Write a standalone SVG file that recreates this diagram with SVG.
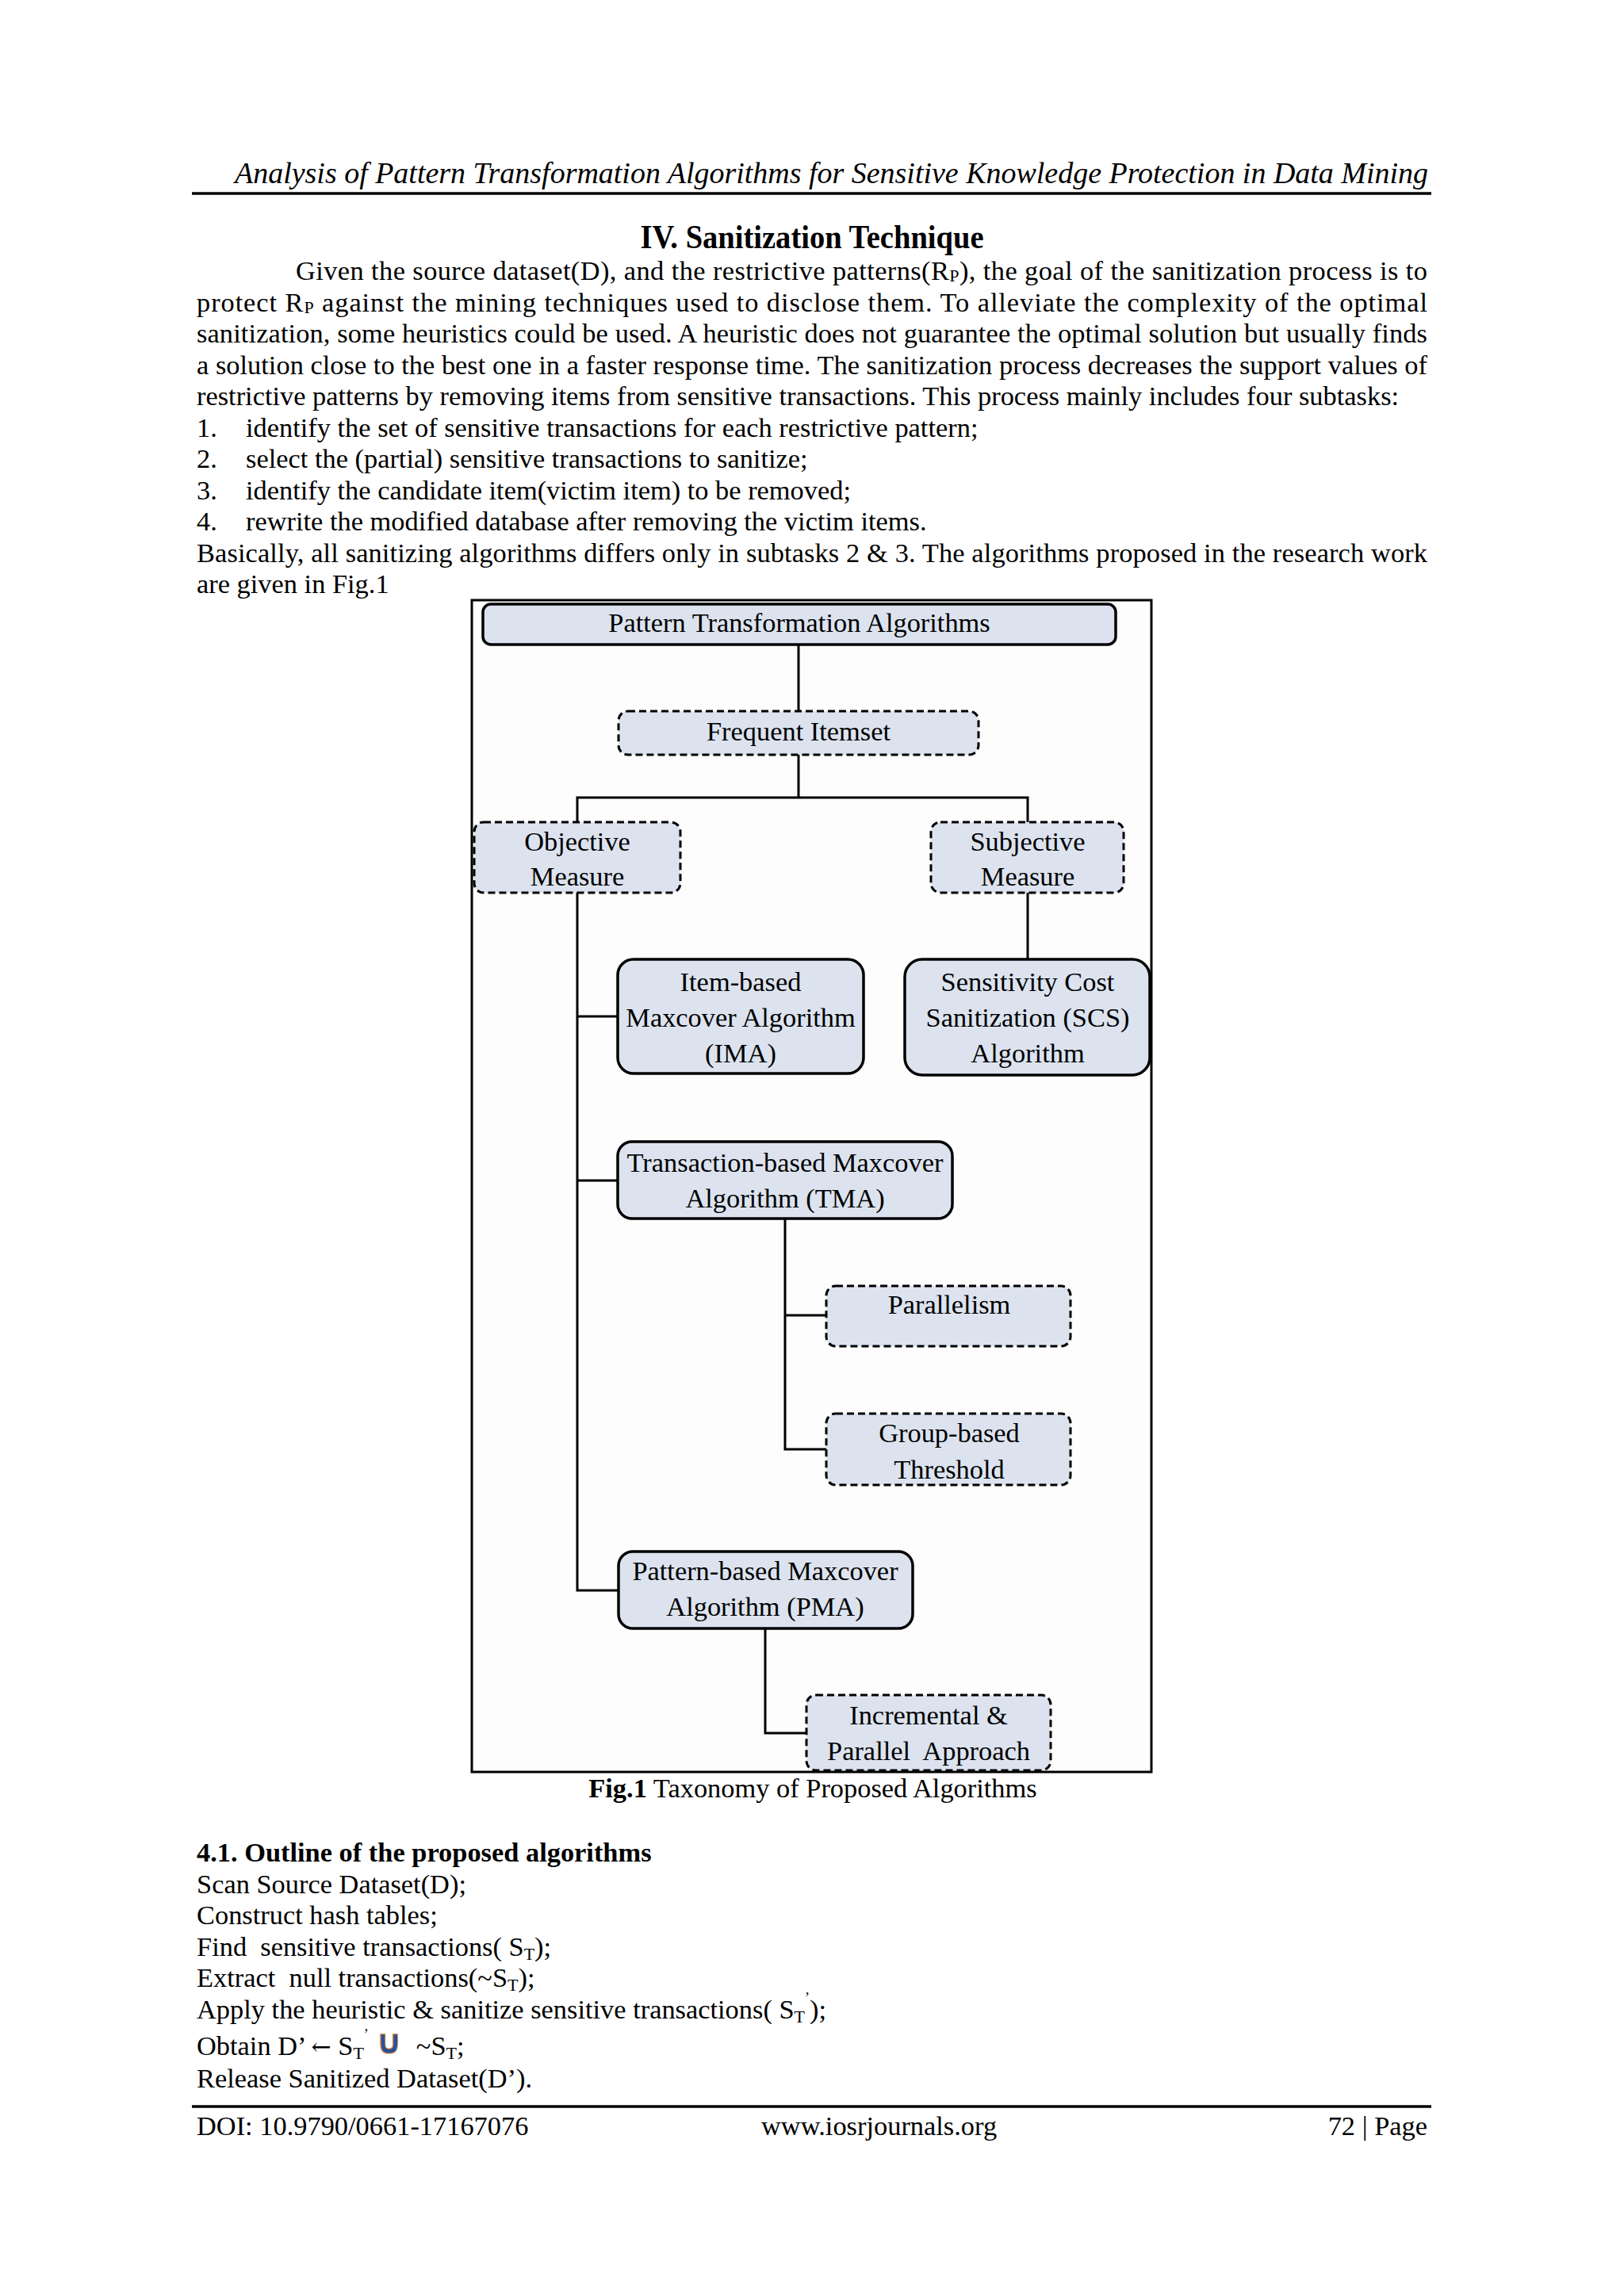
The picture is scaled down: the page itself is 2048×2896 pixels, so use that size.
<svg xmlns="http://www.w3.org/2000/svg" width="2048" height="2896" viewBox="0 0 2048 2896">
<style>
text{font-family:"Liberation Serif","Times New Roman",serif;font-size:34.4px;fill:#000}
.hdr{font-style:italic;font-size:37.8px}
.ttl{font-weight:bold;font-size:41.3px}
.b{font-weight:bold}
.c{text-anchor:middle}
.solid{fill:#dce3ef;stroke:#000;stroke-width:3.5}
.dash{fill:#dce3ef;stroke:#000;stroke-width:3;stroke-dasharray:9 5}
.conn{fill:none;stroke:#000;stroke-width:3}
.rule{stroke:#000;stroke-width:3.5}
</style>
<rect x="0" y="0" width="2048" height="2896" fill="#fff"/>
<!-- page header -->
<text class="hdr" x="296" y="231" textLength="1505" lengthAdjust="spacingAndGlyphs">Analysis of Pattern Transformation Algorithms for Sensitive Knowledge Protection in Data Mining</text>
<line class="rule" x1="242" y1="244" x2="1805" y2="244"/>
<text class="ttl c" x="1024" y="313" textLength="433" lengthAdjust="spacingAndGlyphs">IV. Sanitization Technique</text>
<!-- body -->
<text x="373" y="353" textLength="1427">Given the source dataset(D), and the restrictive patterns(R<tspan font-size="22" dy="2">P</tspan><tspan dy="-2">), the goal of the sanitization process is to</tspan></text>
<text x="248" y="392.5" textLength="1552">protect R<tspan font-size="22" dy="2">P</tspan><tspan dy="-2"> against the mining techniques used to disclose them. To alleviate the complexity of the optimal</tspan></text>
<text x="248" y="432" textLength="1552">sanitization, some heuristics could be used. A heuristic does not guarantee the optimal solution but usually finds</text>
<text x="248" y="471.5" textLength="1552">a solution close to the best one in a faster response time. The sanitization process decreases the support values of</text>
<text x="248" y="511">restrictive patterns by removing items from sensitive transactions. This process mainly includes four subtasks:</text>
<text x="248" y="550.5">1.</text><text x="310" y="550.5">identify the set of sensitive transactions for each restrictive pattern;</text>
<text x="248" y="590">2.</text><text x="310" y="590">select the (partial) sensitive transactions to sanitize;</text>
<text x="248" y="629.5">3.</text><text x="310" y="629.5">identify the candidate item(victim item) to be removed;</text>
<text x="248" y="669">4.</text><text x="310" y="669">rewrite the modified database after removing the victim items.</text>
<text x="248" y="708.5" textLength="1552">Basically, all sanitizing algorithms differs only in subtasks 2 &amp; 3. The algorithms proposed in the research work</text>
<text x="248" y="748">are given in Fig.1</text>
<!-- figure frame -->
<rect x="595" y="757" width="857" height="1478" fill="#fdfdfd" stroke="#000" stroke-width="3"/>
<!-- connectors -->
<g id="connectors">
<path class="conn" d="M1007 813 V897"/>
<path class="conn" d="M1007 952 V1006"/>
<path class="conn" d="M728 1037 V1006 H1296 V1037" stroke-width="4"/>
<path class="conn" d="M728 1126 V2006 H780"/>
<path class="conn" d="M728 1282 H779"/>
<path class="conn" d="M728 1489 H779"/>
<path class="conn" d="M1296 1126 V1210"/>
<path class="conn" d="M990 1537 V1828 H1042"/>
<path class="conn" d="M990 1659 H1042"/>
<path class="conn" d="M965 2054 V2186 H1017"/>
</g>
<!-- nodes -->
<g id="node-pta"><rect class="solid" x="609" y="762" width="798" height="51" rx="10"/><text class="c" x="1008" y="797">Pattern Transformation Algorithms</text></g>
<g id="node-frequent"><rect class="dash" x="780" y="897" width="454" height="55" rx="12"/><text class="c" x="1007" y="934">Frequent Itemset</text></g>
<g id="node-objective"><rect class="dash" x="598" y="1037" width="260" height="89" rx="12"/><text class="c" x="728" y="1073">Objective</text><text class="c" x="728" y="1117">Measure</text></g>
<g id="node-subjective"><rect class="dash" x="1174" y="1037" width="243" height="89" rx="12"/><text class="c" x="1296" y="1073">Subjective</text><text class="c" x="1296" y="1117">Measure</text></g>
<g id="node-ima"><rect class="solid" x="779" y="1210" width="310" height="144" rx="20"/><text class="c" x="934" y="1250">Item-based</text><text class="c" x="934" y="1295">Maxcover Algorithm</text><text class="c" x="934" y="1340">(IMA)</text></g>
<g id="node-scs"><rect class="solid" x="1141" y="1210" width="309" height="146" rx="22"/><text class="c" x="1296" y="1250">Sensitivity Cost</text><text class="c" x="1296" y="1295">Sanitization (SCS)</text><text class="c" x="1296" y="1340">Algorithm</text></g>
<g id="node-tma"><rect class="solid" x="779" y="1440" width="422" height="97" rx="18"/><text class="c" x="990" y="1478">Transaction-based Maxcover</text><text class="c" x="990" y="1523">Algorithm (TMA)</text></g>
<g id="node-parallelism"><rect class="dash" x="1042" y="1622" width="308" height="76" rx="12"/><text class="c" x="1197" y="1657">Parallelism</text></g>
<g id="node-group"><rect class="dash" x="1042" y="1783" width="308" height="90" rx="12"/><text class="c" x="1197" y="1819">Group-based</text><text class="c" x="1197" y="1865">Threshold</text></g>
<g id="node-pma"><rect class="solid" x="780" y="1957" width="371" height="97" rx="18"/><text class="c" x="965" y="1993">Pattern-based Maxcover</text><text class="c" x="965" y="2038">Algorithm (PMA)</text></g>
<g id="node-incremental"><rect class="dash" x="1017" y="2138" width="308" height="95" rx="12"/><text class="c" x="1171" y="2175">Incremental &amp;</text><text class="c" x="1171" y="2220" xml:space="preserve">Parallel  Approach</text></g>
<!-- caption -->
<text class="c" x="1025" y="2267"><tspan class="b">Fig.1</tspan> Taxonomy of Proposed Algorithms</text>
<!-- outline -->
<text class="b" x="248" y="2348">4.1. Outline of the proposed algorithms</text>
<text x="248" y="2387.5">Scan Source Dataset(D);</text>
<text x="248" y="2427">Construct hash tables;</text>
<text x="248" y="2466.5" xml:space="preserve">Find  sensitive transactions( S<tspan font-size="22" dy="5">T</tspan><tspan dy="-5">);</tspan></text>
<text x="248" y="2506" xml:space="preserve">Extract  null transactions(~S<tspan font-size="22" dy="5">T</tspan><tspan dy="-5">);</tspan></text>
<text x="248" y="2545.5">Apply the heuristic &amp; sanitize sensitive transactions( S<tspan font-size="22" dy="5">T</tspan><tspan font-size="18" dy="-25">’</tspan><tspan dy="20">);</tspan></text>
<text x="248" y="2592" xml:space="preserve">Obtain D’ <tspan font-family="DejaVu Serif,serif" font-size="30">←</tspan> S<tspan font-size="22" dy="5">T</tspan><tspan font-size="18" dy="-25">’</tspan><tspan dy="20"> </tspan><tspan fill="#2b4f9a" stroke="#c8862e" stroke-width="1" font-family="DejaVu Sans,sans-serif" font-size="42" font-weight="bold" dy="-2">∪</tspan><tspan dy="2">  ~S</tspan><tspan font-size="22" dy="5">T</tspan><tspan dy="-5">;</tspan></text>
<text x="248" y="2633">Release Sanitized Dataset(D’).</text>
<!-- footer -->
<line class="rule" x1="242" y1="2657" x2="1805" y2="2657"/>
<text x="248" y="2693">DOI: 10.9790/0661-17167076</text>
<text x="960" y="2693">www.iosrjournals.org</text>
<text x="1800" y="2693" text-anchor="end">72 | Page</text>
</svg>
